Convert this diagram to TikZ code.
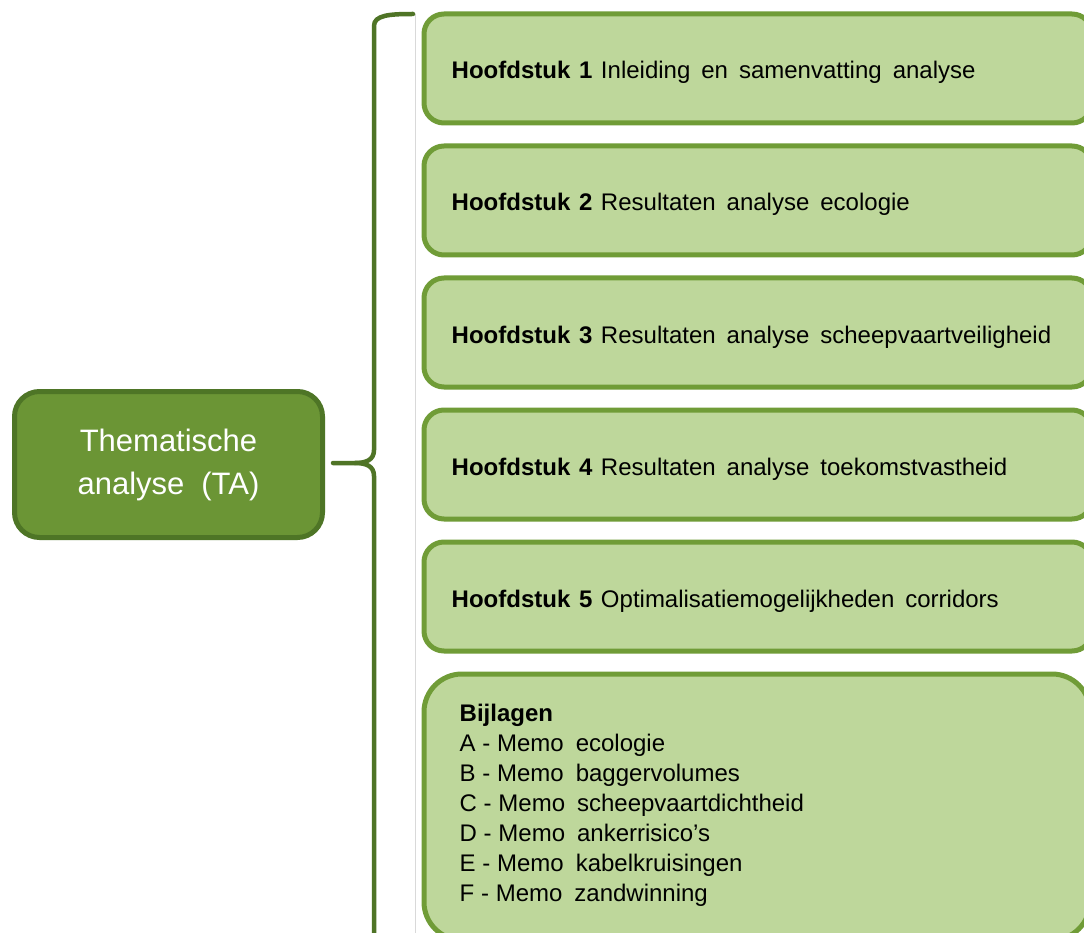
\documentclass[tikz,border=0pt]{standalone}
\usepackage{fontspec}
\setmainfont{Liberation Sans}
\usetikzlibrary{calc}
\definecolor{topfill}{HTML}{6B9535}
\definecolor{topline}{HTML}{4E7526}
\definecolor{boxfill}{HTML}{BED79B}
\definecolor{boxline}{HTML}{709C37}
\definecolor{bracecol}{HTML}{4F7426}
\definecolor{rulegray}{HTML}{D9D9D9}
\newcommand{\widespaces}[1]{\spaceskip=#1\relax}
% a narrow, ordinary-width space
\newcommand{\ns}{\hspace{0.28em}}
\newcommand{\hs}{\hspace{0.36em}}
\begin{document}
\begin{tikzpicture}[x=1pt,y=-1pt,
  mainbox/.style={draw=topline, fill=topfill, line width=5pt, rounded corners=25pt,
    minimum width=308pt, minimum height=146pt, align=center, text=white,
    font=\fontsize{31}{43}\selectfont, execute at begin node={\widespaces{17pt}}},
  chapbox/.style={draw=boxline, fill=boxfill, line width=5pt, rounded corners=20pt,
    minimum width=668pt, minimum height=109pt, inner sep=0pt},
  annexbox/.style={draw=boxline, fill=boxfill, line width=5pt, rounded corners=38pt,
    minimum width=666pt, minimum height=266pt, inner sep=0pt},
  chaptext/.style={anchor=base west, inner sep=0pt,
    font=\fontsize{24}{30}\selectfont, execute at begin node={\widespaces{11pt}}},
  annextext/.style={anchor=north west, inner sep=0pt, align=left,
    font=\fontsize{24}{30}\selectfont, execute at begin node={\widespaces{12pt}}},
  bracestyle/.style={draw=bracecol, line width=4.5pt, line cap=round}
]
\useasboundingbox (0,0) rectangle (1084,933);
\fill[white] (0,0) rectangle (1084,933);

% thin separator between brace and chapter boxes
\coordinate (gtop) at (415,14);
\coordinate (gbot) at (415,933);
\draw[rulegray, line width=1pt] (gtop) -- (gbot);

% main node
\node[mainbox] (ta) at (168.5,464.5) {Thematische\\analyse (TA)};

% chapter boxes
\foreach \i/\y in {1/68.5,2/200.5,3/332.5,4/464.5,5/596.5}{
  \node[chapbox] (h\i) at (758,\y) {};
}
\node[annexbox] (bij) at (757,807) {};

% chapter titles
\node[chaptext] (t1) at ($(h1.west)+(30,10.5)$) {\textbf{Hoofdstuk\hs1}\hs Inleiding en samenvatting analyse};
\node[chaptext] (t2) at ($(h2.west)+(30,10.5)$) {\textbf{Hoofdstuk\hs2}\hs Resultaten analyse ecologie};
\node[chaptext] (t3) at ($(h3.west)+(30,10.5)$) {\textbf{Hoofdstuk\hs3}\hs Resultaten analyse scheepvaartveiligheid};
\node[chaptext] (t4) at ($(h4.west)+(30,10.5)$) {\textbf{Hoofdstuk\hs4}\hs Resultaten analyse toekomstvastheid};
\node[chaptext] (t5) at ($(h5.west)+(30,10.5)$) {\textbf{Hoofdstuk\hs5}\hs Optimalisatiemogelijkheden corridors};

% appendices
\node[annextext] (tb) at ($(bij.north west)+(38,32)$) {\textbf{Bijlagen}\\
A\ns-\ns Memo ecologie\\
B\ns-\ns Memo baggervolumes\\
C\ns-\ns Memo scheepvaartdichtheid\\
D\ns-\ns Memo ankerrisico’s\\
E\ns-\ns Memo kabelkruisingen\\
F\ns-\ns Memo zandwinning};

% curly brace from the main node to the boxes
\coordinate (btop) at (413,14);
\coordinate (tip) at ($(ta.east)+(8,-1.5)$);
\coordinate (bbot) at (374,945);
\draw[bracestyle] (btop) .. controls (390,14) and (374,15) .. (374,26)
  -- (374,450) .. controls (374,460) and (366,463) .. (355,463) -- (tip);
\draw[bracestyle] (355,463) .. controls (366,463) and (374,466) .. (374,476) -- (bbot);
\end{tikzpicture}
\end{document}
